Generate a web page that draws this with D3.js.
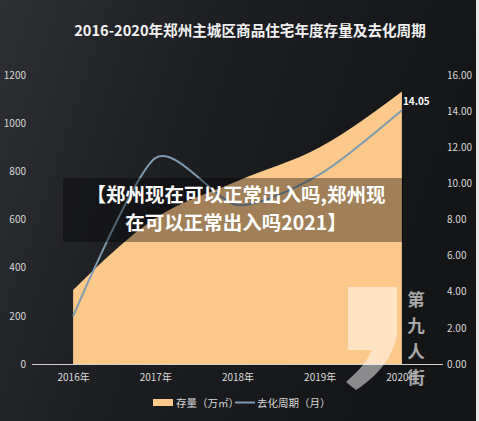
<!DOCTYPE html>
<html><head><meta charset="utf-8">
<script src="https://cdn.jsdelivr.net/npm/d3@7"></script>
<style>html,body{margin:0;padding:0;background:#1b1c1f;}svg{display:block;}</style>
</head><body>
<svg id="c" width="479" height="421"></svg>
<script>
const categories = ["2016年","2017年","2018年","2019年","2020年"];
const stock = [307, 605, 760, 900, 1132];          // 存量（万㎡）
const cycle = [2.65, 11.4, 8.8, 10.5, 14.05];       // 去化周期（月）
const leftTicks = [0,200,400,600,800,1000,1200];
const rightTicks = [0,2,4,6,8,10,12,14,16];
const title = "2016-2020年郑州主城区商品住宅年度存量及去化周期";
const legendNames = ["存量（万㎡）","去化周期（月）"];
const bannerLines = ["【郑州现在可以正常出入吗,郑州现","在可以正常出入吗2021】"];
const watermark = ["第","九","人","街"];

const W = 479, H = 421;
const svg = d3.select("#c");
const font = "'Noto Sans CJK SC','Noto Sans',sans-serif";

const defs = svg.append("defs");
const g = defs.append("linearGradient").attr("id","bg").attr("x1","0").attr("y1","0").attr("x2","1").attr("y2","0.3");
g.append("stop").attr("offset","0").attr("stop-color","#2d2f34");
g.append("stop").attr("offset","0.45").attr("stop-color","#1d1e22");
g.append("stop").attr("offset","1").attr("stop-color","#141517");
svg.append("rect").attr("width",W).attr("height",H).attr("fill","url(#bg)");
svg.append("rect").attr("x",476).attr("width",3).attr("height",H).attr("fill","#e8e8e8");

const x = d3.scalePoint().domain(categories).range([32,443]).padding(0.5);
const yL = d3.scaleLinear().domain([0,1200]).range([364,75]);
const yR = d3.scaleLinear().domain([0,16]).range([364,75]);

svg.append("text").attr("x",250).attr("y",36).attr("text-anchor","middle")
  .attr("fill","#f2f2f2").attr("font-family",font).attr("font-weight","bold").attr("font-size",14.6).text(title);

// area
const area = d3.area().x((d,i)=>x(categories[i])).y0(yL(0)).y1(d=>yL(d)).curve(d3.curveMonotoneX);
svg.append("path").datum(stock).attr("d",area).attr("fill","#fcc98b");

// line
const line = d3.line().x((d,i)=>x(categories[i])).y(d=>yR(d)).curve(d3.curveCardinal.tension(0.25));
svg.append("path").datum(cycle).attr("d",line).attr("fill","none").attr("stroke","#7d9ab0").attr("stroke-width",2);

svg.append("text").attr("x",x(categories[4])+1).attr("y",yR(cycle[4])-5)
  .attr("fill","#ffffff").attr("font-family",font).attr("font-weight","bold").attr("font-size",10)
  .text(cycle[4].toFixed(2));

// axes
const axL = d3.axisLeft(yL).tickValues(leftTicks).tickFormat(d3.format("d")).tickSize(0).tickPadding(0);
const gl = svg.append("g").attr("transform","translate(26,0)").call(axL);
gl.select(".domain").remove();
gl.selectAll("text").attr("fill","#d8d8d8").attr("font-family",font).attr("font-size",10);

const axR = d3.axisRight(yR).tickValues(rightTicks).tickFormat(d3.format(".2f")).tickSize(0).tickPadding(0);
const gr = svg.append("g").attr("transform","translate(447,0)").call(axR);
gr.select(".domain").remove();
gr.selectAll("text").attr("fill","#d8d8d8").attr("font-family",font).attr("font-size",10);

const axB = d3.axisBottom(x).tickSize(0).tickPadding(9);
const gb = svg.append("g").attr("transform","translate(0,364.5)").call(axB);
gb.select(".domain").attr("d","M32,0H443").attr("stroke","#d0d0d0").attr("stroke-width",1);
gb.selectAll("text").attr("fill","#dcdcdc").attr("font-family",font).attr("font-size",10);

// legend
const lg = svg.append("g").attr("font-family",font).attr("font-size",10.5).attr("fill","#d8d8d8");
lg.append("rect").attr("x",153).attr("y",399).attr("width",20).attr("height",7).attr("fill","#fcc98b");
lg.append("text").attr("x",176).attr("y",406.5).text(legendNames[0]);
lg.append("line").attr("x1",235).attr("x2",255).attr("y1",402.5).attr("y2",402.5).attr("stroke","#7d9ab0").attr("stroke-width",2);
lg.append("text").attr("x",257).attr("y",406.5).text(legendNames[1]);

// overlay banner
svg.append("rect").attr("x",63).attr("y",178).attr("width",340).attr("height",64).attr("fill","#000").attr("opacity",0.36);
bannerLines.forEach((t,i)=>{
  svg.append("text").attr("x",236).attr("y",202+i*28).attr("text-anchor","middle")
    .attr("fill","#ffffff").attr("font-family",font).attr("font-weight","bold").attr("font-size",19.5).text(t);
});

// watermark
svg.append("path").attr("d","M348,287 L397,287 L397,335 C392,360 375,378 356,390 L346,382 C360,370 368,360 372,350 L348,350 Z")
  .attr("fill","#ffffff").attr("opacity",0.5);
watermark.forEach((t,i)=>{
  svg.append("text").attr("x",416).attr("y",306+i*26).attr("text-anchor","middle")
    .attr("fill","#a8a8a8").attr("font-family",font).attr("font-weight","bold").attr("font-size",17.5).text(t);
});
</script>
</body></html>
